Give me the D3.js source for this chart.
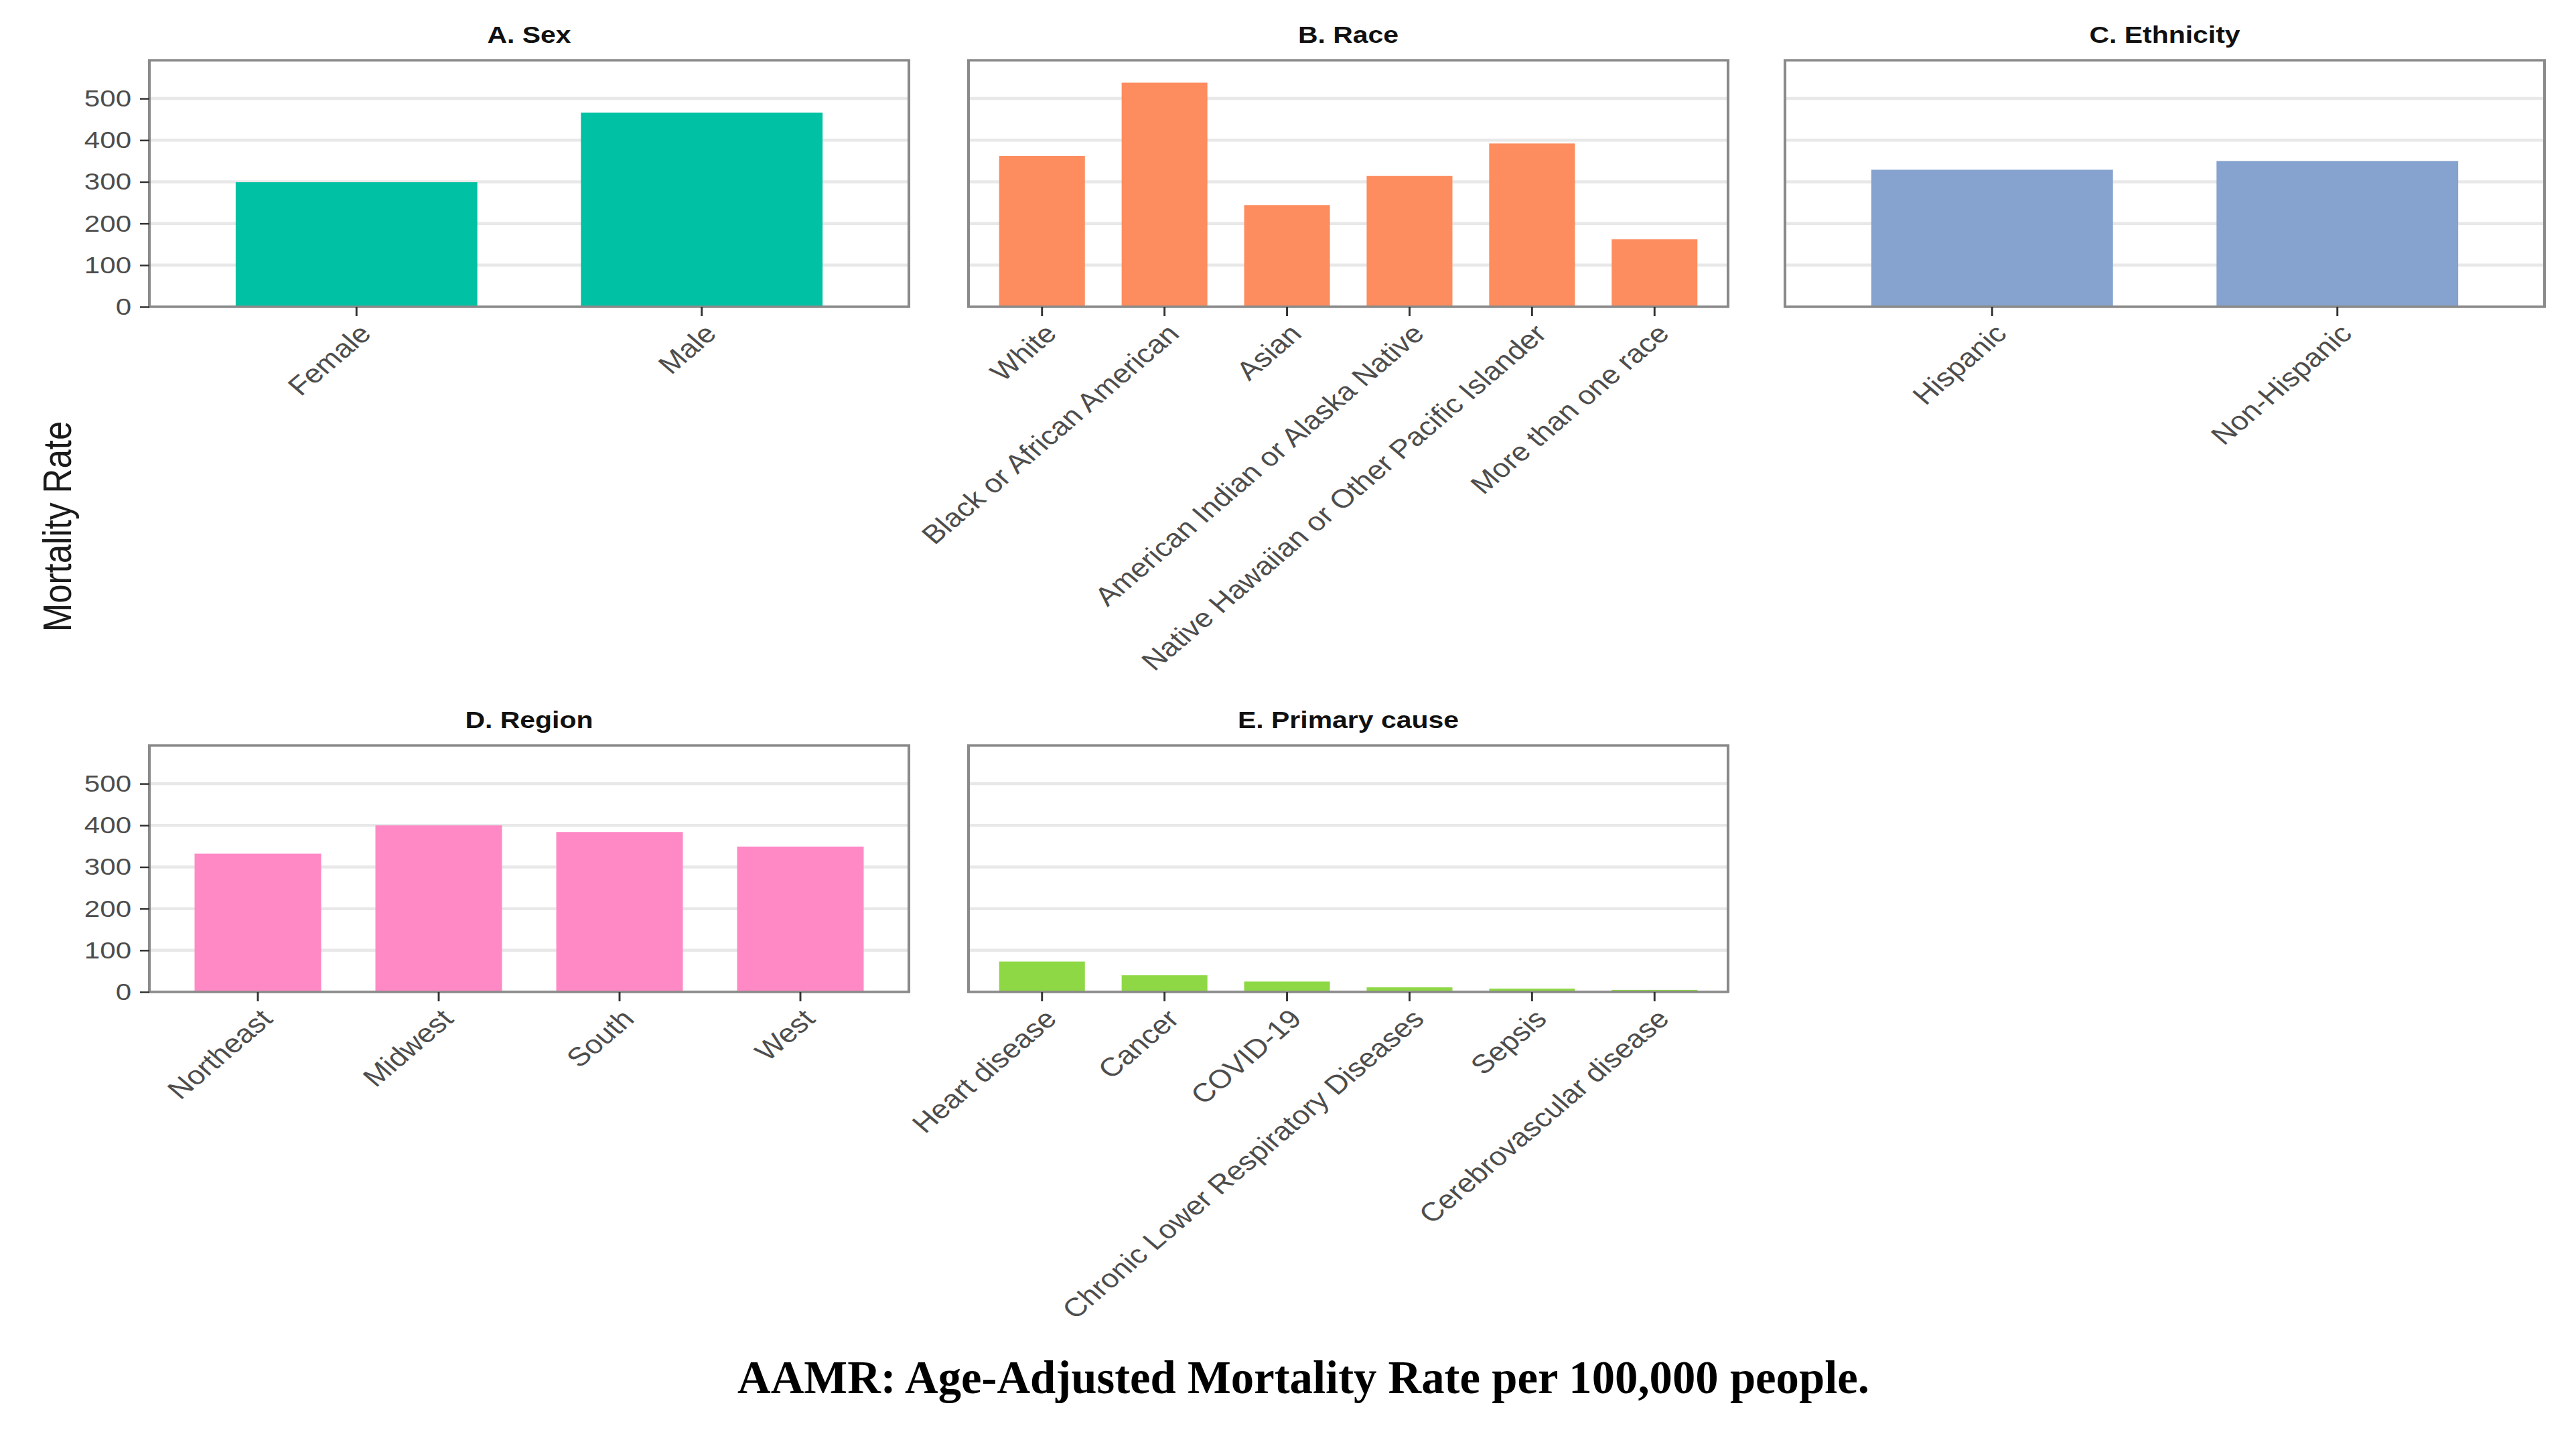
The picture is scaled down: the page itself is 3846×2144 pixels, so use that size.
<!DOCTYPE html>
<html lang="en">

<head>
  <meta charset="UTF-8">
  <title>AAMR by demographic group</title>
  <script src="https://d3js.org/d3.v7.min.js"></script>
  <style>
    body {
      margin: 0;
      background: #fff;
    }

    svg {
      display: block;
    }

    .tick text {
      font-family: "Liberation Sans", Arial, sans-serif;
      fill: #4d4d4d;
    }
  </style>
</head>

<body>
  <script>
    // values
    const sexCats = ["Female", "Male"];
    const sexVals = [299, 466];

    const raceCats = ["White", "Black or African American", "Asian",
      "American Indian or Alaska Native", "Native Hawaiian or Other Pacific Islander", "More than one race"];
    const raceVals = [362, 538, 244, 314, 392, 162];

    const ethCats = ["Hispanic", "Non-Hispanic"];
    const ethVals = [329, 350];

    const regionCats = ["Northeast", "Midwest", "South", "West"];
    const regionVals = [332, 400, 384, 349];

    const causeCats = ["Heart disease", "Cancer", "COVID-19",
      "Chronic Lower Respiratory Diseases", "Sepsis", "Cerebrovascular disease"];
    const causeVals = [73, 40, 25, 11, 8, 5];

    const yTicks = [0, 100, 200, 300, 400, 500];

    const W = 3846, H = 2144;
    // the figure in the reference is stretched sideways a bit
    const SX = 1.17;
    const colLeft = [223, 1446, 2665], rowTop = [90, 1113];
    const panelW = 1134, panelH = 368;

    const yMax = d3.max([...sexVals, ...raceVals, ...ethVals, ...regionVals, ...causeVals]) * 1.1;
    const y = d3.scaleLinear().domain([0, yMax]).range([panelH, 0]);

    const svg = d3.select("body").append("svg").attr("width", W).attr("height", H);
    svg.append("rect").attr("width", W).attr("height", H).attr("fill", "#fff");

    const g = svg.append("g").attr("transform", `scale(${SX},1)`);

    const panels = [
      { title: "A. Sex", cats: sexCats, vals: sexVals, color: "#00c1a3", col: 0, row: 0 },
      { title: "B. Race", cats: raceCats, vals: raceVals, color: "#fd8c5e", col: 1, row: 0 },
      { title: "C. Ethnicity", cats: ethCats, vals: ethVals, color: "#86a2cf", col: 2, row: 0 },
      { title: "D. Region", cats: regionCats, vals: regionVals, color: "#ff89c5", col: 0, row: 1 },
      { title: "E. Primary cause", cats: causeCats, vals: causeVals, color: "#8ed846", col: 1, row: 1 }
    ];

    panels.forEach(pn => {
      const px = colLeft[pn.col] / SX, pw = panelW / SX, py = rowTop[pn.row];
      const p = g.append("g").attr("transform", `translate(${px},${py})`);
      const x = d3.scaleBand().domain(pn.cats).range([0, pw]).paddingInner(0.3).paddingOuter(0.25);
      const rows = pn.cats.map((c, i) => ({ cat: c, val: pn.vals[i] }));

      // grid
      p.selectAll("line.grid").data(yTicks).enter().append("line")
        .attr("x1", 0).attr("x2", pw)
        .attr("y1", d => y(d)).attr("y2", d => y(d))
        .attr("stroke", "#e8e8e8").attr("stroke-width", 4.5);

      // bars
      p.selectAll("rect.bar").data(rows).enter().append("rect")
        .attr("x", d => x(d.cat))
        .attr("y", d => y(d.val))
        .attr("width", x.bandwidth())
        .attr("height", d => y(0) - y(d.val))
        .attr("fill", pn.color);

      // border
      p.append("rect").attr("width", pw).attr("height", panelH)
        .attr("fill", "none").attr("stroke", "#8a8a8a").attr("stroke-width", 3.5);

      // x axis
      const xAxis = p.append("g").attr("transform", `translate(0,${panelH})`)
        .call(d3.axisBottom(x).tickSize(14).tickSizeOuter(0));
      xAxis.select(".domain").remove();
      xAxis.selectAll("line").attr("stroke", "#333").attr("stroke-width", 2.5);
      xAxis.selectAll("text")
        .attr("y", 0).attr("dy", "0.75em")
        .attr("text-anchor", "end")
        .attr("font-size", 39)
        .attr("transform", "translate(0,22) rotate(-45)");

      // y axis only on the left column
      if (pn.col === 0) {
        const yAxis = p.append("g")
          .call(d3.axisLeft(y).tickValues(yTicks).tickSize(12).tickPadding(11).tickSizeOuter(0));
        yAxis.select(".domain").remove();
        yAxis.selectAll("line").attr("stroke", "#333").attr("stroke-width", 2.5);
        yAxis.selectAll("text").attr("font-size", 36);
      }

      // title
      g.append("text")
        .attr("x", px + pw / 2).attr("y", py - 26)
        .attr("text-anchor", "middle")
        .attr("font-family", "Liberation Sans, Arial, sans-serif")
        .attr("font-weight", "bold")
        .attr("font-size", 35)
        .attr("fill", "#111")
        .text(pn.title);
    });

    // shared y title
    g.append("text")
      .attr("transform", "translate(91,786) rotate(-90)")
      .attr("text-anchor", "middle")
      .attr("font-family", "Liberation Sans, Arial, sans-serif")
      .attr("font-size", 51)
      .attr("fill", "#1a1a1a")
      .text("Mortality Rate");

    // caption under the figure
    svg.append("text")
      .attr("x", 1946).attr("y", 2080)
      .attr("text-anchor", "middle")
      .attr("font-family", "Liberation Serif, 'Times New Roman', serif")
      .attr("font-weight", "bold")
      .attr("font-size", 70)
      .attr("textLength", 1690)
      .attr("lengthAdjust", "spacingAndGlyphs")
      .attr("fill", "#000")
      .text("AAMR: Age-Adjusted Mortality Rate per 100,000 people.");
  </script>
</body>

</html>
